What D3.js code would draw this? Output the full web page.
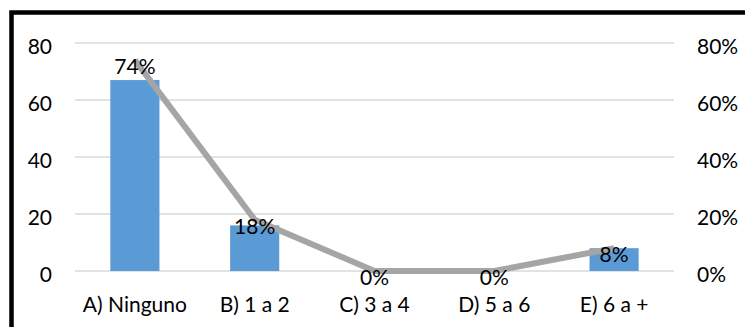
<!DOCTYPE html>
<html><head><meta charset="utf-8">
<script src="https://cdn.jsdelivr.net/npm/d3@7"></script>
<style>html,body{margin:0;padding:0;background:#fff;}svg{display:block;}</style>
</head><body><svg id="c" width="745" height="327"></svg>
<script>
const categories = ["A) Ninguno", "B) 1 a 2", "C) 3 a 4", "D) 5 a 6", "E) 6 a +"];
const counts = [67, 16, 0, 0, 8];
const percents = [0.74, 0.18, 0, 0, 0.08];
const leftTicks = [0, 20, 40, 60, 80];
const rightTicks = [0, 0.2, 0.4, 0.6, 0.8];

const svg = d3.select("#c");
const font = "Lato, 'Open Sans', sans-serif";
const fs = 21;
const m = {l: 75, r: 71, t: 43, b: 56};
const W = 745, H = 327;

svg.append("rect").attr("x", 11.5).attr("y", 12.5).attr("width", 800).attr("height", 400)
  .attr("fill", "none").attr("stroke", "#000").attr("stroke-width", 4.5);

const x = d3.scaleBand().domain(categories).range([m.l, W - m.r]).paddingInner(0.59).paddingOuter(0.295);
const y = d3.scaleLinear().domain([0, 80]).range([H - m.b, m.t]);
const y2 = d3.scaleLinear().domain([0, 0.8]).range([H - m.b, m.t]);

// gridlines
svg.append("g").selectAll("line").data(leftTicks).join("line")
  .attr("x1", m.l).attr("x2", W - m.r).attr("y1", d => y(d)).attr("y2", d => y(d))
  .attr("stroke", "#D9D9D9").attr("stroke-width", 1.5);

// left axis
const ga = svg.append("g").attr("transform", `translate(${m.l},0)`)
  .call(d3.axisLeft(y).tickValues(leftTicks).tickSize(0).tickPadding(23));
ga.select(".domain").remove();
ga.selectAll("text").attr("font-family", font).attr("font-size", fs).attr("fill", "#000").attr("dy", "0.5em");

const gb = svg.append("g").attr("transform", `translate(${W - m.r},0)`)
  .call(d3.axisRight(y2).tickValues(rightTicks).tickFormat(d3.format(".0%")).tickSize(0).tickPadding(23));
gb.select(".domain").remove();
gb.selectAll("text").attr("font-family", font).attr("font-size", fs).attr("fill", "#000").attr("dy", "0.5em");

const gx = svg.append("g").attr("transform", `translate(0,${H - m.b})`)
  .call(d3.axisBottom(x).tickSize(0).tickPadding(26));
gx.select(".domain").remove();
gx.selectAll("text").attr("font-family", font).attr("font-size", fs).attr("fill", "#000");

// bars
svg.append("g").selectAll("rect").data(categories).join("rect")
  .attr("x", d => x(d)).attr("width", x.bandwidth())
  .attr("y", (d, i) => y(counts[i])).attr("height", (d, i) => y(0) - y(counts[i]))
  .attr("fill", "#5B9BD5");

// line
const cx = d => x(d) + x.bandwidth() / 2;
svg.append("path").datum(categories)
  .attr("d", d3.line().x(cx).y((d, i) => y2(percents[i])))
  .attr("fill", "none").attr("stroke", "#A5A5A5").attr("stroke-width", 6).attr("stroke-linejoin", "round");

// labels
svg.append("g").selectAll("text").data(categories).join("text")
  .attr("x", cx).attr("y", (d, i) => y2(percents[i]) + 14)
  .attr("text-anchor", "middle").attr("font-family", font).attr("font-size", fs).attr("fill", "#000")
  .text((d, i) => d3.format(".0%")(percents[i]));
</script></body></html>
